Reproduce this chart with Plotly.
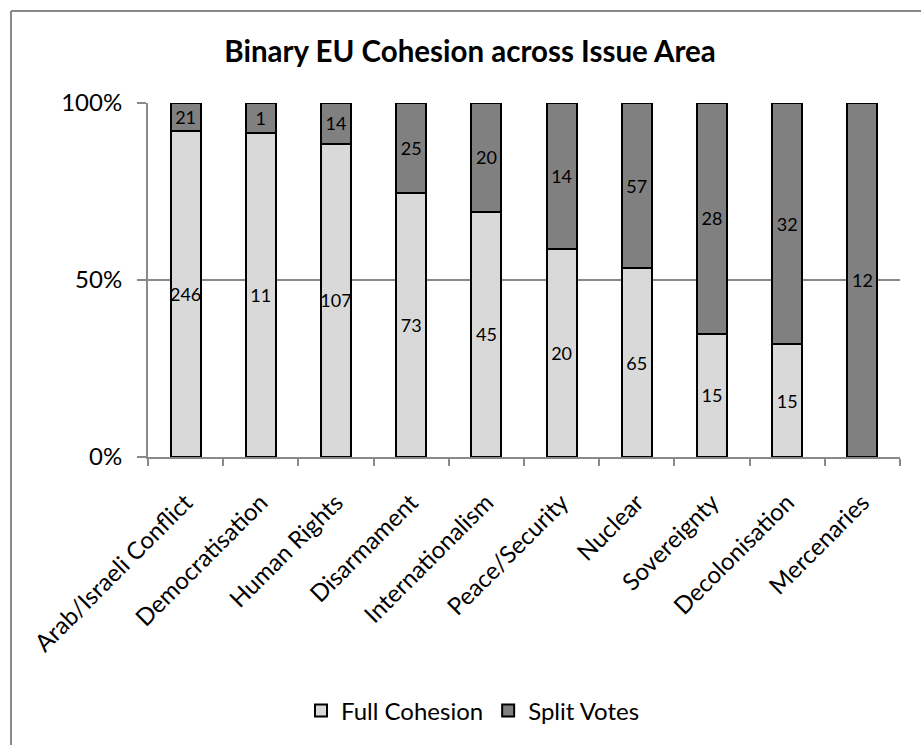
import plotly.graph_objects as go

# Votes per issue area, split by whether the EU voted cohesively
issue_areas = [
    "Arab/Israeli Conflict", "Democratisation", "Human Rights", "Disarmament",
    "Internationalism", "Peace/Security", "Nuclear", "Sovereignty",
    "Decolonisation", "Mercenaries",
]
full_cohesion = [246, 11, 107, 73, 45, 20, 65, 15, 15, 0]
split_votes = [21, 1, 14, 25, 20, 14, 57, 28, 32, 12]

y_ticks = [0, 50, 100]
y_tick_labels = ["0%", "50%", "100%"]

FONT = "Lato, Calibri, sans-serif"
LIGHT = "#d9d9d9"
DARK = "#808080"
GRID = "#898989"

W, H = 921, 745
L, R, T, B = 148, 21, 103, 288


def label(vals):
    return [str(v) if v > 0 else "" for v in vals]


fig = go.Figure()
for name, vals, color in [
    ("Full Cohesion", full_cohesion, LIGHT),
    ("Split Votes", split_votes, DARK),
]:
    fig.add_trace(go.Bar(
        name=name, x=issue_areas, y=vals,
        marker=dict(color=color, line=dict(color="#000000", width=2)),
        text=label(vals), textposition="inside", insidetextanchor="middle",
        textangle=0, textfont=dict(family=FONT, size=18, color="#000000"),
        width=0.4,
    ))

fig.update_layout(
    barmode="stack", barnorm="percent",
    width=W, height=H, autosize=False,
    margin=dict(l=L, r=R, t=T, b=B, pad=0),
    paper_bgcolor="white", plot_bgcolor="white",
    font=dict(family=FONT, color="#000000"),
    uniformtext=dict(minsize=18, mode="show"),
    title=dict(
        text="<b>Binary EU Cohesion across Issue Area</b>",
        font=dict(family=FONT, size=29.5, color="#000000"),
        x=470 / W, xanchor="center", y=1 - 52 / H, yanchor="middle",
        xref="container", yref="container",
    ),
    legend=dict(
        orientation="h", x=(473 - L) / (W - L - R), xanchor="center",
        y=(457 - 711) / (457 - 103), yanchor="middle",
        font=dict(family=FONT, size=24), traceorder="normal",
    ),
    showlegend=True,
)

fig.update_yaxes(
    range=[0, 100], tickvals=y_ticks, ticktext=y_tick_labels,
    showgrid=True, gridcolor=GRID, gridwidth=2,
    showline=True, linecolor=GRID, linewidth=2,
    ticks="outside", ticklen=9, tickwidth=2, tickcolor=GRID,
    tickfont=dict(family=FONT, size=24), ticklabelstandoff=10,
    zeroline=False,
)
fig.update_xaxes(
    showline=True, linecolor=GRID, linewidth=2,
    ticks="outside", ticklen=7, tickwidth=2, tickcolor=GRID,
    tickson="boundaries", tickangle=-45,
    tickfont=dict(family=FONT, size=24), ticklabelstandoff=20,
)

# Chart-area frame (left and top edges)
pw, ph = W - L - R, H - T - B
x_left = (11 - L) / pw
y_top = (H - B - 11) / ph
fig.add_shape(type="line", xref="paper", yref="paper",
              x0=x_left, x1=x_left, y0=-(B + 5) / ph, y1=y_top,
              line=dict(color=GRID, width=2))
fig.add_shape(type="line", xref="paper", yref="paper",
              x0=x_left, x1=(W - L + 5) / pw, y0=y_top, y1=y_top,
              line=dict(color=GRID, width=2))

fig.write_html("out.html")
